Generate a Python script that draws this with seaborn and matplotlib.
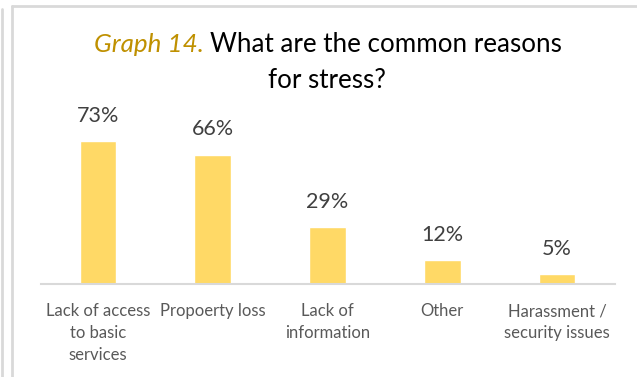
import matplotlib
matplotlib.use("Agg")
import matplotlib.pyplot as plt
from matplotlib.lines import Line2D
from matplotlib.offsetbox import TextArea, HPacker, AnchoredOffsetbox
import pandas as pd
import seaborn as sns

categories = [
    "Lack of access\nto basic\nservices",
    "Propoerty loss",
    "Lack of\ninformation",
    "Other",
    "Harassment /\nsecurity issues",
]
values = [73, 66, 29, 12, 5]
value_labels = ["73%", "66%", "29%", "12%", "5%"]

sns.set_theme(style="white")
plt.rcParams["font.family"] = ["Lato", "DejaVu Sans"]

W, H = 637, 377
fig = plt.figure(figsize=(W / 100, H / 100), dpi=100)
fig.patch.set_facecolor("white")

# plot area in pixel terms: x 40.5..614.5, baseline at y=284, 1.96 px per percent
left, right, base, top_val = 40.5, 614.5, 284, 80
height_px = top_val * 1.96
ax = fig.add_axes([left / W, (H - base) / H, (right - left) / W, height_px / H])

df = pd.DataFrame({"reason": categories, "share": values})
sns.barplot(data=df, x="reason", y="share", color="#FFD966", saturation=1,
            width=0.32, ax=ax)

ax.set_xlim(-0.5, len(categories) - 0.5)
ax.set_ylim(0, top_val)
ax.set_xlabel("")
ax.set_ylabel("")
ax.set_yticks([])
for side in ["top", "right", "left"]:
    ax.spines[side].set_visible(False)
ax.spines["bottom"].set_color("#D9D9D9")
ax.spines["bottom"].set_linewidth(1.5)
ax.tick_params(axis="x", length=0, pad=14, labelsize=12, labelcolor="#595959")
for lbl in ax.get_xticklabels():
    lbl.set_linespacing(1.45)
ax.set_facecolor("none")

ax.bar_label(ax.containers[0], labels=value_labels, padding=11,
             fontsize=15.5, color="#404040")

# title: italic gold lead-in followed by black question
TITLE_SIZE = 18.7
lead = TextArea("Graph 14. ", textprops=dict(fontsize=TITLE_SIZE, style="italic",
                                              color="#BF9000"))
rest = TextArea("What are the common reasons",
                textprops=dict(fontsize=TITLE_SIZE, color="black"))
row = HPacker(children=[lead, rest], align="baseline", pad=0, sep=0)
box = AnchoredOffsetbox(loc="center", child=row, pad=0, frameon=False,
                        bbox_to_anchor=(328 / W, 1 - 45 / H),
                        bbox_transform=fig.transFigure, borderpad=0)
fig.add_artist(box)
fig.text(327 / W, 1 - 80 / H, "for stress?", ha="center", va="center",
         fontsize=TITLE_SIZE, color="black")

# frame lines around the chart
def px_line(x0, y0, x1, y1, lw=2.0):
    fig.add_artist(Line2D([x0 / W, x1 / W], [1 - y0 / H, 1 - y1 / H],
                          transform=fig.transFigure, color="#D9D9D9", lw=lw))

px_line(2, 9, 2, H)
px_line(11.5, 6, 11.5, H)
px_line(11.5, 6, W, 6)

fig.savefig("out.png", dpi=100)
